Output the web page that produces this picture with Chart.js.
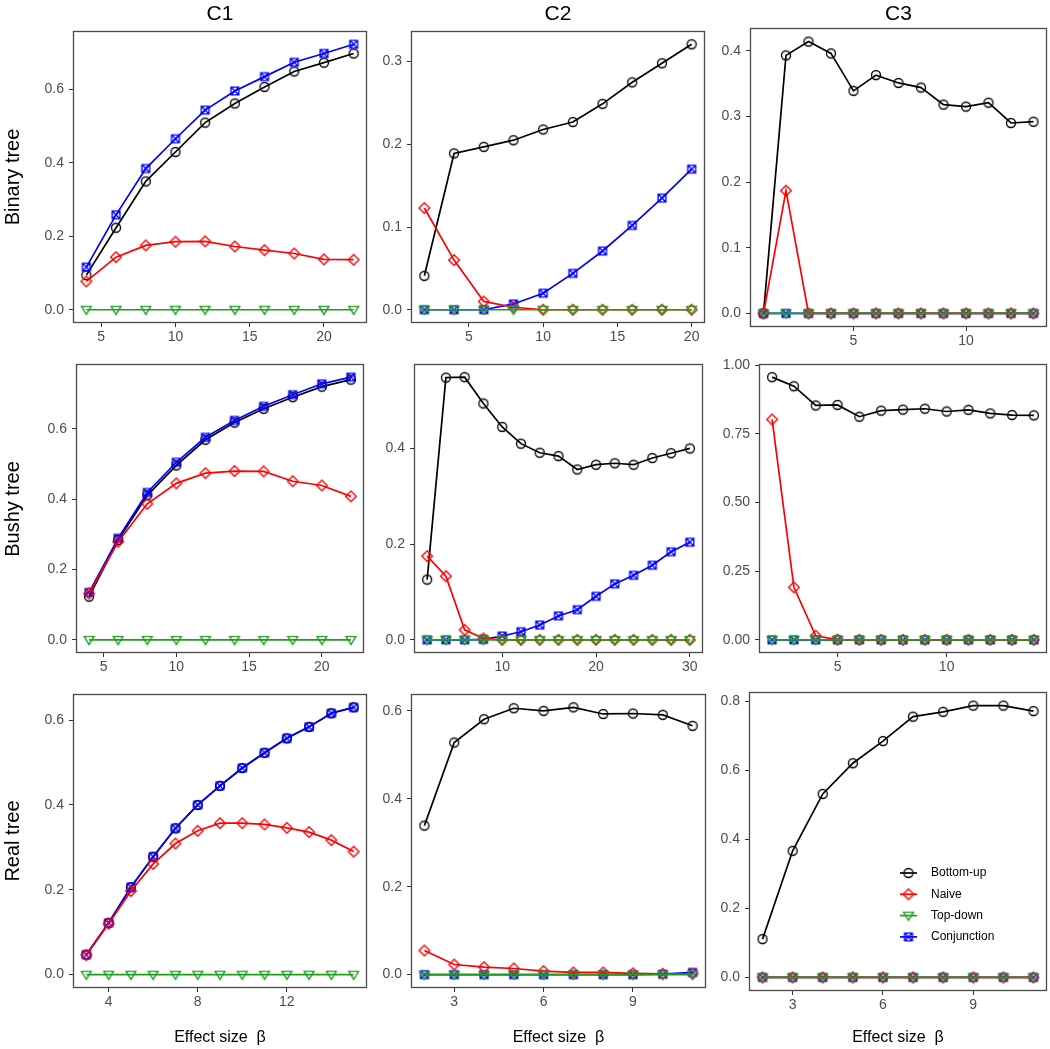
<!DOCTYPE html>
<html><head><meta charset="utf-8">
<script src="https://cdn.jsdelivr.net/npm/chart.js@4.4.1/dist/chart.umd.min.js"></script>
<style>
html,body{margin:0;padding:0;background:#fff;}
body{width:1050px;height:1049px;position:relative;overflow:hidden;font-family:"Liberation Sans",Arial,sans-serif;}
canvas{position:absolute;}
.lab{position:absolute;white-space:nowrap;color:#000;transform:translate(-50%,-50%);}
.rot{transform:translate(-50%,-50%) rotate(-90deg);}
</style></head><body>
<script>
// ---------------- DATA ----------------
const seriesNames = ["Bottom-up", "Naive", "Top-down", "Conjunction"];
const columnTitles = ["C1", "C2", "C3"];
const rowTitles = ["Binary tree", "Bushy tree", "Real tree"];
const xAxisTitle = "Effect size\u00a0\u00a0\u03b2";

// Binary tree, C1
const binC1_x = [4, 6, 8, 10, 12, 14, 16, 18, 20, 22];
const binC1_bottomUp = [0.094, 0.223, 0.349, 0.429, 0.509, 0.561, 0.606, 0.648, 0.672, 0.697];
const binC1_naive = [0.077, 0.143, 0.175, 0.185, 0.186, 0.172, 0.162, 0.153, 0.137, 0.136];
const binC1_topDown = [0, 0, 0, 0, 0, 0, 0, 0, 0, 0];
const binC1_conj = [0.116, 0.258, 0.384, 0.465, 0.543, 0.595, 0.634, 0.673, 0.697, 0.722];
const binC1_xTicks = [5, 10, 15, 20];
const binC1_yTicks = ["0.0", "0.2", "0.4", "0.6"];

// Binary tree, C2
const binC2_x = [2, 4, 6, 8, 10, 12, 14, 16, 18, 20];
const binC2_bottomUp = [0.041, 0.189, 0.197, 0.205, 0.218, 0.227, 0.249, 0.275, 0.298, 0.321];
const binC2_naive = [0.123, 0.060, 0.010, 0.003, 0, 0, 0, 0, 0, 0];
const binC2_topDown = [0, 0, 0, 0, 0, 0, 0, 0, 0, 0];
const binC2_conj = [0, 0, 0, 0.007, 0.020, 0.044, 0.071, 0.102, 0.135, 0.170];
const binC2_xTicks = [5, 10, 15, 20];
const binC2_yTicks = ["0.0", "0.1", "0.2", "0.3"];

// Binary tree, C3
const binC3_x = [1, 2, 3, 4, 5, 6, 7, 8, 9, 10, 11, 12, 13];
const binC3_bottomUp = [0, 0.393, 0.414, 0.396, 0.339, 0.363, 0.351, 0.344, 0.318, 0.315, 0.321, 0.290, 0.292];
const binC3_naive = [0, 0.187, 0, 0, 0, 0, 0, 0, 0, 0, 0, 0, 0];
const binC3_topDown = [0, 0, 0, 0, 0, 0, 0, 0, 0, 0, 0, 0, 0];
const binC3_conj = [0, 0, 0, 0, 0, 0, 0, 0, 0, 0, 0, 0, 0];
const binC3_xTicks = [5, 10];
const binC3_yTicks = ["0.0", "0.1", "0.2", "0.3", "0.4"];

// Bushy tree, C1
const bushC1_x = [4, 6, 8, 10, 12, 14, 16, 18, 20, 22];
const bushC1_bottomUp = [0.123, 0.284, 0.411, 0.496, 0.569, 0.618, 0.657, 0.690, 0.720, 0.740];
const bushC1_naive = [0.132, 0.279, 0.387, 0.445, 0.474, 0.480, 0.479, 0.451, 0.439, 0.408];
const bushC1_topDown = [0, 0, 0, 0, 0, 0, 0, 0, 0, 0];
const bushC1_conj = [0.135, 0.289, 0.419, 0.505, 0.576, 0.624, 0.664, 0.697, 0.728, 0.747];
const bushC1_xTicks = [5, 10, 15, 20];
const bushC1_yTicks = ["0.0", "0.2", "0.4", "0.6"];

// Bushy tree, C2
const bushC2_x = [2, 4, 6, 8, 10, 12, 14, 16, 18, 20, 22, 24, 26, 28, 30];
const bushC2_bottomUp = [0.126, 0.548, 0.549, 0.494, 0.445, 0.410, 0.391, 0.384, 0.356, 0.366, 0.369, 0.366, 0.380, 0.390, 0.400];
const bushC2_naive = [0.175, 0.133, 0.021, 0.003, 0, 0, 0, 0, 0, 0, 0, 0, 0, 0, 0];
const bushC2_topDown = [0, 0, 0, 0, 0, 0, 0, 0, 0, 0, 0, 0, 0, 0, 0];
const bushC2_conj = [0, 0, 0, 0.001, 0.008, 0.017, 0.031, 0.050, 0.063, 0.091, 0.117, 0.135, 0.156, 0.184, 0.204];
const bushC2_xTicks = [10, 20, 30];
const bushC2_yTicks = ["0.0", "0.2", "0.4"];

// Bushy tree, C3
const bushC3_x = [2, 3, 4, 5, 6, 7, 8, 9, 10, 11, 12, 13, 14];
const bushC3_bottomUp = [0.956, 0.923, 0.853, 0.855, 0.812, 0.834, 0.838, 0.841, 0.831, 0.837, 0.824, 0.818, 0.817];
const bushC3_naive = [0.802, 0.191, 0.015, 0.001, 0, 0, 0, 0, 0, 0, 0, 0, 0];
const bushC3_topDown = [0, 0, 0, 0, 0, 0, 0, 0, 0, 0, 0, 0, 0];
const bushC3_conj = [0, 0, 0, 0, 0, 0, 0, 0, 0, 0, 0, 0, 0];
const bushC3_xTicks = [5, 10];
const bushC3_yTicks = ["0.00", "0.25", "0.50", "0.75", "1.00"];

// Real tree, C1
const realC1_x = [3, 4, 5, 6, 7, 8, 9, 10, 11, 12, 13, 14, 15];
const realC1_bottomUp = [0.047, 0.122, 0.206, 0.278, 0.345, 0.400, 0.445, 0.487, 0.523, 0.557, 0.584, 0.616, 0.630];
const realC1_naive = [0.046, 0.120, 0.197, 0.261, 0.309, 0.339, 0.357, 0.357, 0.354, 0.346, 0.336, 0.317, 0.290];
const realC1_topDown = [0, 0, 0, 0, 0, 0, 0, 0, 0, 0, 0, 0, 0];
const realC1_conj = [0.047, 0.122, 0.206, 0.278, 0.345, 0.400, 0.445, 0.487, 0.523, 0.557, 0.584, 0.616, 0.630];
const realC1_xTicks = [4, 8, 12];
const realC1_yTicks = ["0.0", "0.2", "0.4", "0.6"];

// Real tree, C2
const realC2_x = [2, 3, 4, 5, 6, 7, 8, 9, 10, 11];
const realC2_bottomUp = [0.339, 0.528, 0.581, 0.606, 0.600, 0.608, 0.593, 0.594, 0.591, 0.566];
const realC2_naive = [0.055, 0.023, 0.017, 0.014, 0.008, 0.005, 0.005, 0.003, 0.002, 0.002];
const realC2_topDown = [0, 0, 0, 0, 0, 0, 0, 0, 0, 0];
const realC2_conj = [0, 0, 0, 0, 0, 0, 0, 0, 0.001, 0.005];
const realC2_xTicks = [3, 6, 9];
const realC2_yTicks = ["0.0", "0.2", "0.4", "0.6"];

// Real tree, C3
const realC3_x = [2, 3, 4, 5, 6, 7, 8, 9, 10, 11];
const realC3_bottomUp = [0.111, 0.367, 0.532, 0.621, 0.685, 0.756, 0.770, 0.788, 0.788, 0.772];
const realC3_naive = [0, 0, 0, 0, 0, 0, 0, 0, 0, 0];
const realC3_topDown = [0, 0, 0, 0, 0, 0, 0, 0, 0, 0];
const realC3_conj = [0, 0, 0, 0, 0, 0, 0, 0, 0, 0];
const realC3_xTicks = [3, 6, 9];
const realC3_yTicks = ["0.0", "0.2", "0.4", "0.6", "0.8"];

// ---------------- LAYOUT / STYLE ----------------
const FONT = '"Liberation Sans", Arial, sans-serif';
const colors = ["#000000", "#ff0000", "#1f9e1f", "#0000ff"];
const markerKinds = ["circle", "diamond", "tri", "boxx"];
const drawOrder = [3, 1, 0, 2]; // Top-down on top, then Naive, Conjunction, Bottom-up

const panels = [
  {x: binC1_x, s: [binC1_bottomUp, binC1_naive, binC1_topDown, binC1_conj], xt: binC1_xTicks, yt: binC1_yTicks, box: [73, 31, 367, 323]},
  {x: binC2_x, s: [binC2_bottomUp, binC2_naive, binC2_topDown, binC2_conj], xt: binC2_xTicks, yt: binC2_yTicks, box: [411, 31, 705, 323]},
  {x: binC3_x, s: [binC3_bottomUp, binC3_naive, binC3_topDown, binC3_conj], xt: binC3_xTicks, yt: binC3_yTicks, box: [750, 28, 1047, 327]},
  {x: bushC1_x, s: [bushC1_bottomUp, bushC1_naive, bushC1_topDown, bushC1_conj], xt: bushC1_xTicks, yt: bushC1_yTicks, box: [76, 364, 364, 653]},
  {x: bushC2_x, s: [bushC2_bottomUp, bushC2_naive, bushC2_topDown, bushC2_conj], xt: bushC2_xTicks, yt: bushC2_yTicks, box: [414, 364, 703, 653]},
  {x: bushC3_x, s: [bushC3_bottomUp, bushC3_naive, bushC3_topDown, bushC3_conj], xt: bushC3_xTicks, yt: bushC3_yTicks, box: [759, 364, 1047, 653]},
  {x: realC1_x, s: [realC1_bottomUp, realC1_naive, realC1_topDown, realC1_conj], xt: realC1_xTicks, yt: realC1_yTicks, box: [73, 694, 367, 988]},
  {x: realC2_x, s: [realC2_bottomUp, realC2_naive, realC2_topDown, realC2_conj], xt: realC2_xTicks, yt: realC2_yTicks, box: [411, 694, 706, 988]},
  {x: realC3_x, s: [realC3_bottomUp, realC3_naive, realC3_topDown, realC3_conj], xt: realC3_xTicks, yt: realC3_yTicks, box: [749, 692, 1047, 991], legend: true}
];

function makeMarker(kind, color) {
  const c = document.createElement('canvas');
  const s = 14; c.width = s; c.height = s;
  const g = c.getContext('2d');
  g.strokeStyle = color; g.lineWidth = 1.35;
  const m = s / 2;
  g.beginPath();
  if (kind === 'circle') { g.arc(m, m, 4.5, 0, Math.PI * 2); }
  else if (kind === 'diamond') { g.moveTo(m, m - 5.3); g.lineTo(m + 5.3, m); g.lineTo(m, m + 5.3); g.lineTo(m - 5.3, m); g.closePath(); }
  else if (kind === 'tri') { g.moveTo(m - 4.9, m - 3.4); g.lineTo(m + 4.9, m - 3.4); g.lineTo(m, m + 4.7); g.closePath(); }
  else if (kind === 'boxx') {
    const h = 3.9;
    g.rect(m - h, m - h, 2 * h, 2 * h);
    g.moveTo(m - h, m - h); g.lineTo(m + h, m + h);
    g.moveTo(m + h, m - h); g.lineTo(m - h, m + h);
  }
  g.stroke();
  return c;
}
const markers = markerKinds.map((k, i) => makeMarker(k, colors[i]));

const boxPlugin = {
  id: 'panelBox',
  afterDatasetsDraw(chart) {
    const a = chart.chartArea, ctx = chart.ctx;
    ctx.save();
    ctx.strokeStyle = '#4a4a4a'; ctx.lineWidth = 1.3;
    ctx.strokeRect(Math.round(a.left) + 0.5, Math.round(a.top) + 0.5, Math.round(a.right - a.left) - 1, Math.round(a.bottom - a.top) - 1);
    ctx.restore();
  }
};

const legendPlugin = {
  id: 'insideLegend',
  afterDatasetsDraw(chart, args, opts) {
    if (!opts || !opts.show) return;
    const ctx = chart.ctx, a = chart.chartArea;
    const x0 = a.left + (opts.dx || 0), y0 = a.top + (opts.dy || 0);
    ctx.save();
    seriesNames.forEach((name, i) => {
      const y = y0 + i * 21.3;
      ctx.strokeStyle = colors[i]; ctx.lineWidth = 1.7;
      ctx.beginPath(); ctx.moveTo(x0, y); ctx.lineTo(x0 + 17, y); ctx.stroke();
      ctx.drawImage(markers[i], x0 + 8.5 - markers[i].width / 2, y - markers[i].height / 2);
      ctx.fillStyle = '#000';
      ctx.font = '12px ' + FONT;
      ctx.textBaseline = 'middle'; ctx.textAlign = 'left';
      ctx.fillText(name, x0 + 31, y);
    });
    ctx.restore();
  }
};

function buildPanel(p) {
  const [L, T, R, B] = p.box;
  const padL = 52, padT = 12, padR = 12, padB = 34;
  const w = R - L + padL + padR, h = B - T + padT + padB;
  const cv = document.createElement('canvas');
  cv.width = w; cv.height = h;
  cv.style.left = (L - padL) + 'px'; cv.style.top = (T - padT) + 'px';
  cv.style.width = w + 'px'; cv.style.height = h + 'px';
  document.body.appendChild(cv);

  const xmin = Math.min(...p.x), xmax = Math.max(...p.x);
  const allY = [].concat(...p.s);
  const ymin = Math.min(...allY), ymax = Math.max(...allY);
  const xe = (xmax - xmin) * 0.05, ye = (ymax - ymin) * 0.05;
  const yVals = p.yt.map(Number);

  const datasets = p.s.map((ys, i) => ({
    label: seriesNames[i],
    data: p.x.map((xv, j) => ({x: xv, y: ys[j]})),
    borderColor: colors[i],
    backgroundColor: colors[i],
    borderWidth: 1.7,
    tension: 0,
    pointStyle: markers[i],
    pointRadius: 5,
    pointHoverRadius: 5,
    order: drawOrder[i]
  }));

  const tickFont = {family: FONT, size: 14};
  new Chart(cv, {
    type: 'line',
    data: {datasets},
    plugins: [boxPlugin, legendPlugin],
    options: {
      responsive: false, animation: false, devicePixelRatio: 1,
      events: [],
      layout: {padding: {left: 0, top: padT, right: padR, bottom: 0}},
      plugins: {
        legend: {display: false}, tooltip: {enabled: false},
        insideLegend: {show: !!p.legend, dx: 151, dy: 181}
      },
      scales: {
        x: {
          type: 'linear', min: xmin - xe, max: xmax + xe,
          afterBuildTicks: s => { s.ticks = p.xt.map(v => ({value: v})); },
          afterFit: s => { s.height = padB; s.paddingLeft = 0; s.paddingRight = 0; },
          ticks: {autoSkip: false, maxRotation: 0, minRotation: 0, padding: 2, color: '#4d4d4d', font: tickFont,
                  callback: (v) => String(v)},
          grid: {display: true, drawOnChartArea: false, drawTicks: true, tickLength: 4, color: '#333333', lineWidth: 1},
          border: {display: false}
        },
        y: {
          type: 'linear', min: ymin - ye, max: ymax + ye,
          afterBuildTicks: s => { s.ticks = yVals.map(v => ({value: v})); },
          afterFit: s => { s.width = padL; s.paddingTop = 0; s.paddingBottom = 0; },
          ticks: {autoSkip: false, padding: 5, color: '#4d4d4d', font: tickFont,
                  callback: (v, i) => p.yt[i]},
          grid: {display: true, drawOnChartArea: false, drawTicks: true, tickLength: 4, color: '#333333', lineWidth: 1},
          border: {display: false}
        }
      }
    }
  });
}

panels.forEach(buildPanel);

function addLabel(text, cx, cy, size, rot) {
  const d = document.createElement('div');
  d.className = 'lab' + (rot ? ' rot' : '');
  d.textContent = text;
  d.style.left = cx + 'px'; d.style.top = cy + 'px';
  d.style.fontSize = size + 'px';
  document.body.appendChild(d);
}
// column titles
[0, 1, 2].forEach(c => {
  const b = panels[c].box;
  addLabel(columnTitles[c], (b[0] + b[2]) / 2, 13, 21, false);
});
// row titles
[0, 1, 2].forEach(r => {
  const b = panels[r * 3].box;
  addLabel(rowTitles[r], 12, (b[1] + b[3]) / 2, 20, true);
});
// x axis titles
[6, 7, 8].forEach(k => {
  const b = panels[k].box;
  addLabel(xAxisTitle, (b[0] + b[2]) / 2, 1037, 16, false);
});
</script>
</body></html>
